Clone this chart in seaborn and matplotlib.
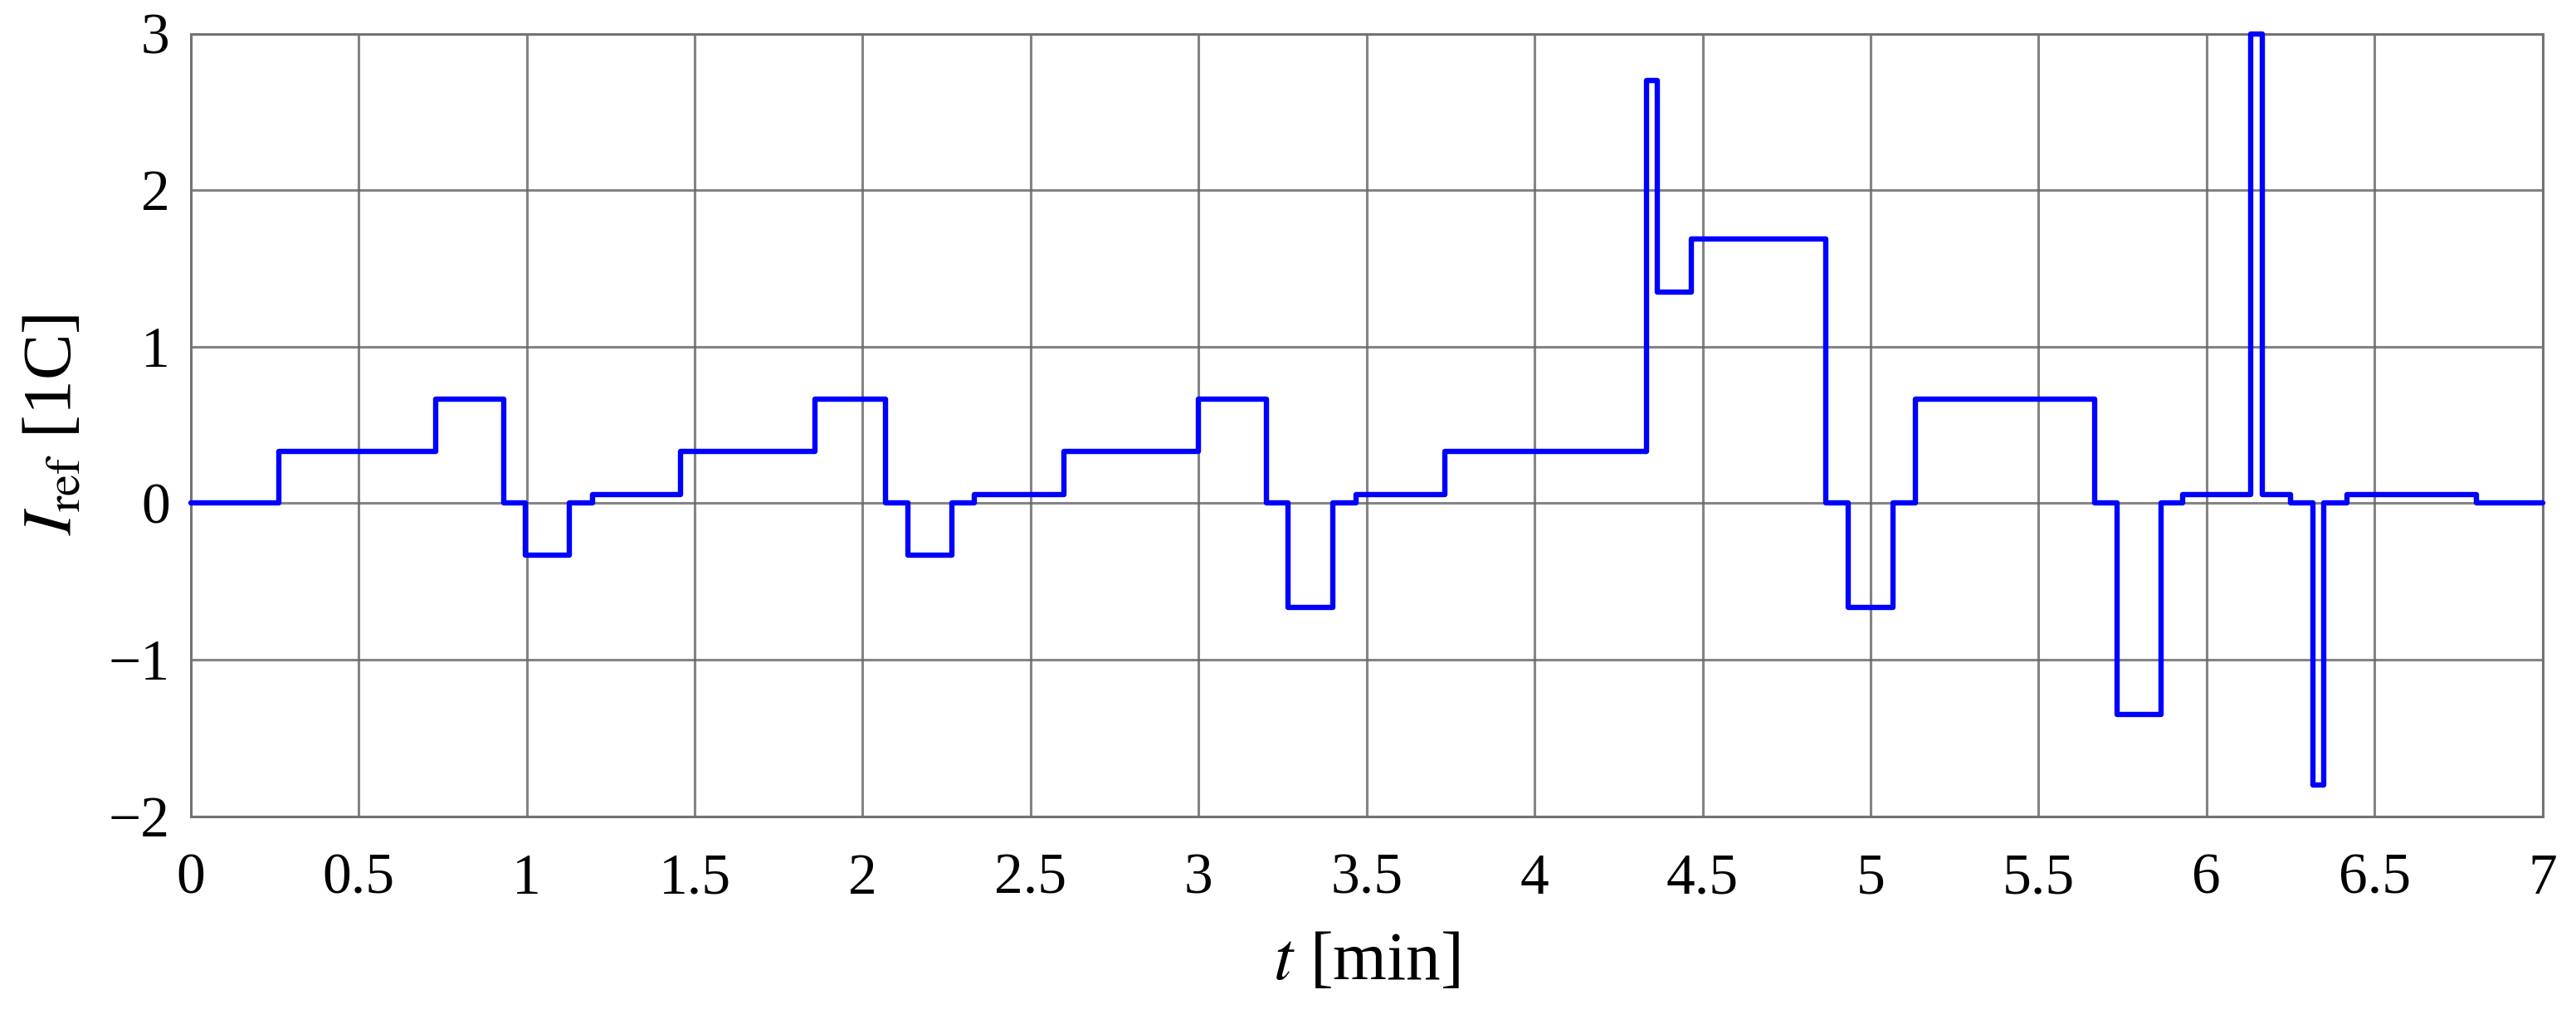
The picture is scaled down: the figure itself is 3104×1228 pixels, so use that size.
import matplotlib
matplotlib.use("Agg")
import matplotlib.pyplot as plt
import seaborn as sns

# Reference current profile (step signal)
t_min = [0, 0.263, 0.729, 0.932, 0.996, 1.127, 1.196, 1.459, 1.857, 2.069,
         2.135, 2.267, 2.333, 2.600, 2.999, 3.201, 3.267, 3.400, 3.468, 3.732,
         4.333, 4.366, 4.467, 4.866, 4.933, 5.066, 5.134, 5.667, 5.733, 5.864,
         5.930, 6.131, 6.167, 6.250, 6.317, 6.350, 6.417, 6.803, 7.0]
i_ref = [0, 0.333, 0.667, 0, -0.333, 0, 0.055, 0.333, 0.667, 0,
         -0.333, 0, 0.055, 0.333, 0.667, 0, -0.667, 0, 0.055, 0.333,
         2.70, 1.35, 1.69, 0, -0.667, 0, 0.667, 0, -1.35, 0,
         0.055, 3.0, 0.055, 0, -1.80, 0, 0.055, 0, 0]

x_ticks = [0, 0.5, 1, 1.5, 2, 2.5, 3, 3.5, 4, 4.5, 5, 5.5, 6, 6.5, 7]
x_labels = ["0", "0.5", "1", "1.5", "2", "2.5", "3", "3.5", "4", "4.5", "5", "5.5", "6", "6.5", "7"]
y_ticks = [-2, -1, 0, 1, 2, 3]
y_labels = ["\u22122", "\u22121", "0", "1", "2", "3"]

sns.set_style("white")
plt.rcParams['font.family'] = ['Liberation Serif', 'DejaVu Serif']
plt.rcParams['mathtext.fontset'] = 'stix'
plt.rcParams['text.color'] = 'black'
plt.rcParams['axes.labelcolor'] = 'black'
plt.rcParams['xtick.color'] = 'black'
plt.rcParams['ytick.color'] = 'black'

fig = plt.figure(figsize=(15.52, 6.14), dpi=200)
ax = fig.add_axes([0.074, 0.199, 0.913, 0.768])

sns.lineplot(x=t_min, y=i_ref, ax=ax, drawstyle='steps-post',
             color='#0000ff', linewidth=2.3, clip_on=False, zorder=3)

ax.set_xlim(0, 7)
ax.set_ylim(-2, 3)
ax.set_xticks(x_ticks)
ax.set_xticklabels(x_labels)
ax.set_yticks(y_ticks)
ax.set_yticklabels(y_labels)
ax.tick_params(length=0, labelsize=25)
ax.tick_params(axis='x', pad=16)
ax.tick_params(axis='y', pad=9)

ax.grid(True, color='0.4', linewidth=1.1, alpha=0.8)
for s in ax.spines.values():
    s.set_color('0.45')
    s.set_linewidth(1.1)

ax.set_xlabel("$t$ [min]", fontsize=30, labelpad=11)
ax.set_ylabel("$I_{\\mathrm{ref}}$ [1C]", fontsize=30, labelpad=10)

fig.savefig("out.png", dpi=200)
